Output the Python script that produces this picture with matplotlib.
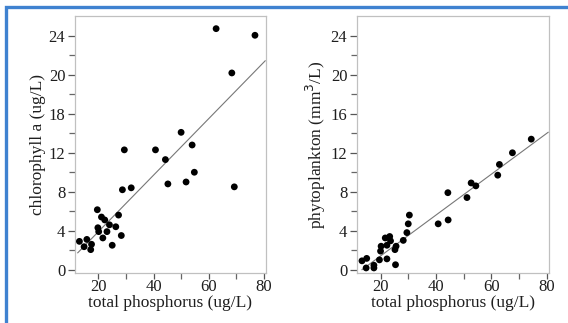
import matplotlib
matplotlib.use("Agg")
import matplotlib.pyplot as plt
import numpy as np
from matplotlib.patches import Rectangle

# ---- data ----
tp_chl = [62.7, 76.8, 68.4, 50.0, 40.7, 29.4, 44.3, 54.0, 54.8, 45.2, 51.8, 69.3,
          28.7, 31.9, 19.6, 27.3, 21.1, 22.3, 24.0, 19.8, 26.3, 20.1, 23.1, 21.6,
          28.3, 25.0, 13.1, 15.8, 17.5, 14.8, 17.2]
chl = [24.75, 24.07, 20.2, 14.1, 12.3, 12.3, 11.3, 12.8, 10.0, 8.8, 9.0, 8.5,
       8.2, 8.4, 6.15, 5.6, 5.4, 5.1, 4.6, 4.3, 4.4, 3.9, 3.9, 3.25,
       3.5, 2.5, 2.9, 3.1, 2.6, 2.35, 2.05]
chl_fit = (0.29, -1.9)          # slope, intercept
chl_fit_x = (12.5, 80.5)

tp_phy = [74.4, 67.6, 62.9, 62.3, 52.7, 54.4, 51.2, 44.3, 44.4, 40.8, 30.4, 30.0,
          29.5, 28.2, 25.6, 25.2, 23.3, 21.7, 23.6, 22.3, 20.2, 20.0, 22.3, 19.6,
          25.4, 17.6, 17.6, 15.0, 13.3, 14.8]
phy = [13.4, 12.0, 10.8, 9.7, 8.9, 8.6, 7.4, 7.9, 5.1, 4.7, 5.6, 4.7,
       3.8, 3.0, 2.4, 2.05, 3.4, 3.25, 2.95, 2.5, 2.4, 1.9, 1.1, 1.0,
       0.5, 0.45, 0.17, 1.15, 0.9, 0.17]
phy_fit = (0.21, -2.8)
phy_fit_x = (13.3, 80.5)

x_ticks = [20, 40, 60, 80]
y_ticks = [0, 4, 8, 12, 16, 20, 24]
y_labels_left = ["0", "4", "8", "12", "18", "20", "24"]
y_labels_right = ["0", "4", "8", "12", "16", "20", "24"]

plt.rcParams['font.family'] = ['Liberation Serif', 'DejaVu Serif']

fig = plt.figure(figsize=(5.68, 3.23), dpi=100)

W, H = 568, 323
def ax_rect(x0, x1, ytop, ybot):
    return [x0 / W, 1 - ybot / H, (x1 - x0) / W, (ybot - ytop) / H]

ax1 = fig.add_axes(ax_rect(75, 266, 16, 273))
ax2 = fig.add_axes(ax_rect(357, 549, 16, 273))

tc = '#1e1e1e'
for ax, xs, ys, fit, fx, ylab, ylbls in [
        (ax1, tp_chl, chl, chl_fit, chl_fit_x, "chlorophyll a (ug/L)", y_labels_left),
        (ax2, tp_phy, phy, phy_fit, phy_fit_x, "phytoplankton (mm$^3$/L)", y_labels_right)]:
    fxa = np.array(fx)
    ax.plot(fxa, fit[0] * fxa + fit[1], color='#777777', lw=0.8, zorder=2)
    ax.scatter(xs, ys, s=24, color='black', edgecolors='none', zorder=3)
    ax.set_xlim(11.5, 80.8)
    ax.set_ylim(-0.35, 26.05)
    ax.set_xticks(x_ticks)
    ax.set_xticks([30, 50, 70], minor=True)
    ax.set_yticks(y_ticks)
    ax.set_yticklabels(ylbls)
    ax.set_yticks([2, 6, 10, 14, 18, 22], minor=True)
    ax.tick_params(axis='y', which='major', direction='out', length=5, width=0.9,
                   color='#555555', labelsize=12, labelcolor=tc, pad=2)
    ax.tick_params(axis='x', which='major', direction='out', length=4, width=0.9,
                   color='#555555', labelsize=12, labelcolor=tc, pad=0)
    ax.tick_params(axis='both', which='minor', direction='out', length=4, width=0.9,
                   color='#666666')
    for sp in ax.spines.values():
        sp.set_color('#c0c0c0')
        sp.set_linewidth(0.9)
    ax.set_xlabel("total phosphorus (ug/L)", fontsize=12.5, color=tc, labelpad=0)
    ax.set_ylabel(ylab, fontsize=12.5, color=tc, labelpad=2)

# blue frame
fig.patches.append(Rectangle((6 / W, -0.1), 1.2, 1 - 7 / H + 0.1,
                             transform=fig.transFigure, fill=False,
                             edgecolor='#3f82d0', linewidth=2.4))

fig.savefig("out.png", dpi=100)
